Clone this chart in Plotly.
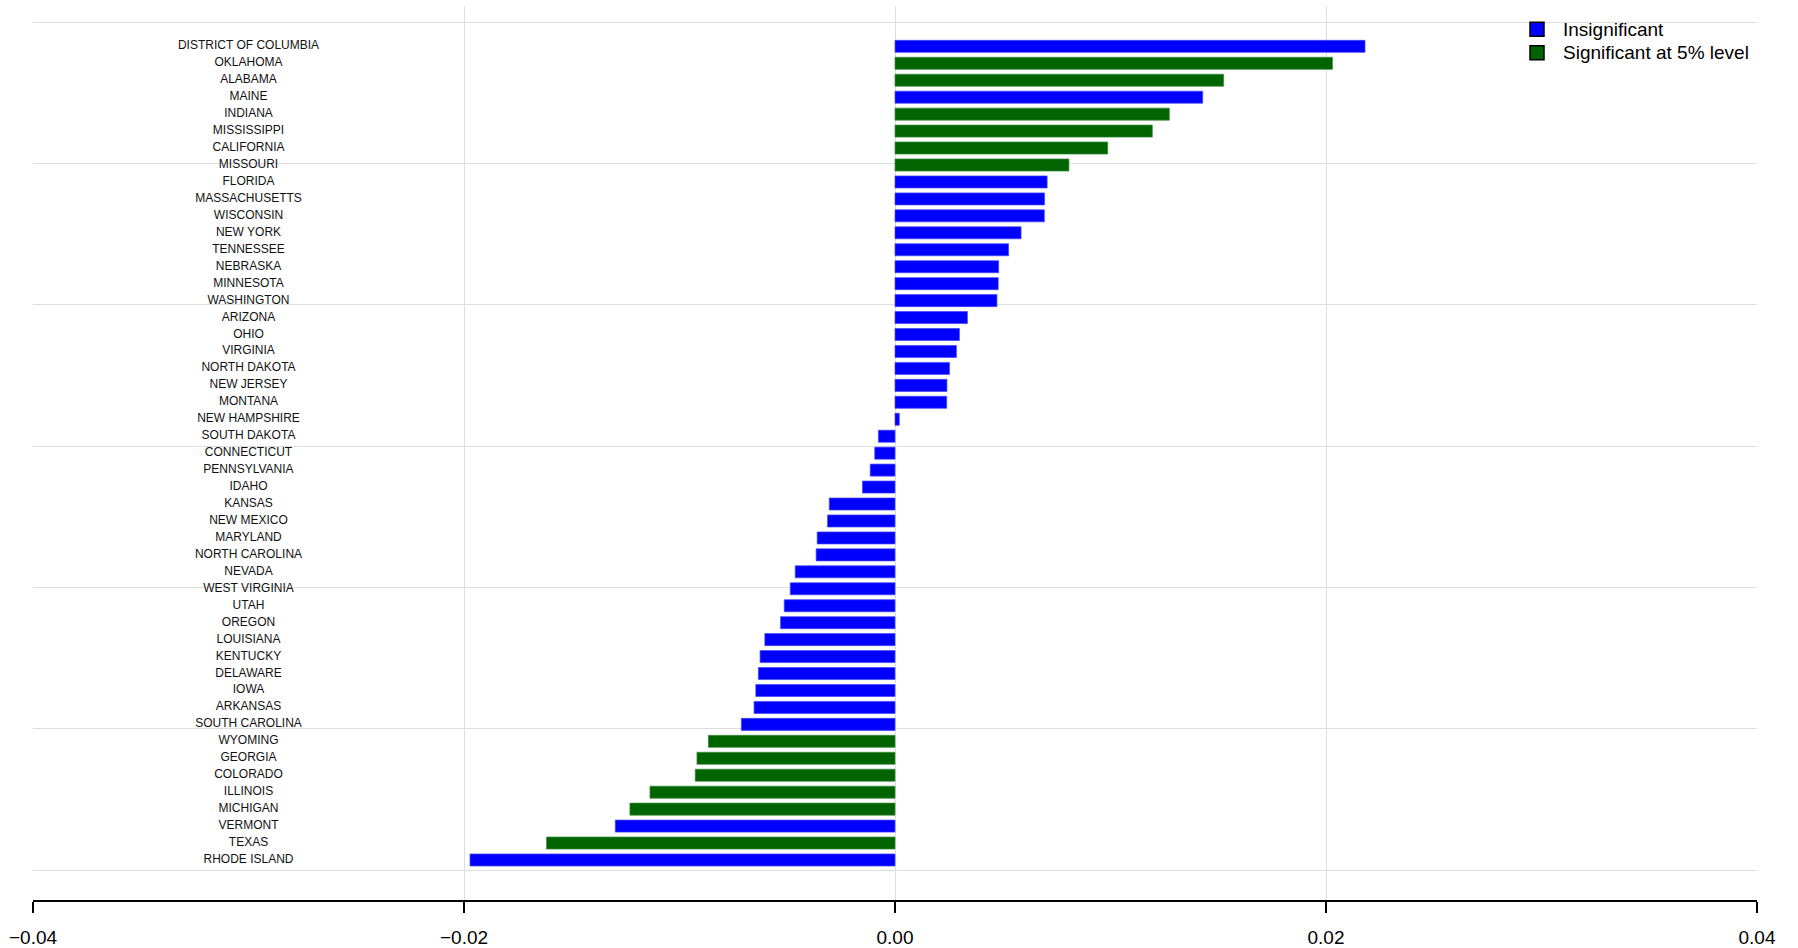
import plotly.graph_objects as go

# Data (top to bottom as displayed)
states = [
    "DISTRICT OF COLUMBIA", "OKLAHOMA", "ALABAMA", "MAINE", "INDIANA", "MISSISSIPPI",
    "CALIFORNIA", "MISSOURI", "FLORIDA", "MASSACHUSETTS", "WISCONSIN", "NEW YORK",
    "TENNESSEE", "NEBRASKA", "MINNESOTA", "WASHINGTON", "ARIZONA", "OHIO", "VIRGINIA",
    "NORTH DAKOTA", "NEW JERSEY", "MONTANA", "NEW HAMPSHIRE", "SOUTH DAKOTA",
    "CONNECTICUT", "PENNSYLVANIA", "IDAHO", "KANSAS", "NEW MEXICO", "MARYLAND",
    "NORTH CAROLINA", "NEVADA", "WEST VIRGINIA", "UTAH", "OREGON", "LOUISIANA",
    "KENTUCKY", "DELAWARE", "IOWA", "ARKANSAS", "SOUTH CAROLINA", "WYOMING", "GEORGIA",
    "COLORADO", "ILLINOIS", "MICHIGAN", "VERMONT", "TEXAS", "RHODE ISLAND",
]
values = [
    0.02181, 0.0203, 0.01525, 0.01428, 0.01273, 0.01194,
    0.00987, 0.00807, 0.00706, 0.00694, 0.00693, 0.00585,
    0.00527, 0.00481, 0.00479, 0.00473, 0.00336, 0.00299, 0.00285,
    0.00253, 0.00241, 0.0024, 0.0002, -0.00077,
    -0.00094, -0.00115, -0.00151, -0.00305, -0.00313, -0.00361,
    -0.00366, -0.00463, -0.00486, -0.00514, -0.00531, -0.00604,
    -0.00626, -0.00634, -0.00646, -0.00654, -0.00713, -0.00866, -0.00919,
    -0.00927, -0.01137, -0.0123, -0.01298, -0.01617, -0.01972,
]
significant = [
    False, True, True, False, True, True,
    True, True, False, False, False, False,
    False, False, False, False, False, False, False,
    False, False, False, False, False,
    False, False, False, False, False, False,
    False, False, False, False, False, False,
    False, False, False, False, False, True, True,
    True, True, True, False, True, False,
]
group_names = ["Insignificant", "Significant at 5% level"]
group_colors = ["#0000ff", "#006400"]
group_edges = ["rgba(70,70,255,0.9)", "rgba(60,140,60,0.9)"]

x_ticks = [-0.04, -0.02, 0.0, 0.02, 0.04]

n = len(states)
ypos = [n - i for i in range(n)]  # DC at top
label_x = -0.03

FONT = "Liberation Sans, Arial, Helvetica, sans-serif"

fig = go.Figure()

for g, (name, col, edge) in enumerate(zip(group_names, group_colors, group_edges)):
    flag = bool(g)
    xs = [v for v, s in zip(values, significant) if s == flag]
    ys = [y for y, s in zip(ypos, significant) if s == flag]
    fig.add_trace(go.Bar(
        x=xs, y=ys, orientation="h", width=0.71, name=name,
        marker=dict(color=col, line=dict(color=edge, width=0.8)),
        showlegend=False, hoverinfo="x+y",
    ))

fig.add_trace(go.Scatter(
    x=[label_x] * n, y=ypos, text=states, mode="text",
    textposition="middle center",
    textfont=dict(family=FONT, size=12, color="#111111"),
    showlegend=False, hoverinfo="skip",
))

# manual legend (paper coordinates)
W, H = 1798, 948
ML, MR, MT, MB = 33, 41, 6, 48
pw, ph = W - ML - MR, H - MT - MB


def px2paper_x(px):
    return (px - ML) / pw


def px2paper_y(py):
    return (H - MB - py) / ph


leg_rows = [29.3, 52.7]
for name, col, cy in zip(group_names, group_colors, leg_rows):
    fig.add_shape(
        type="rect", xref="paper", yref="paper",
        x0=px2paper_x(1530), x1=px2paper_x(1544),
        y0=px2paper_y(cy + 7), y1=px2paper_y(cy - 7),
        fillcolor=col, line=dict(color="black", width=1.5),
    )
    fig.add_annotation(
        xref="paper", yref="paper", x=px2paper_x(1561), y=px2paper_y(cy),
        xanchor="left", yanchor="middle", showarrow=False, text=name,
        font=dict(family=FONT, size=19, color="black"),
    )

grid_y = [0.41 + 8.336 * k for k in range(7)]

fig.update_layout(
    width=W, height=H,
    margin=dict(l=ML, r=MR, t=MT, b=MB, autoexpand=False),
    plot_bgcolor="white", paper_bgcolor="white",
    barmode="overlay",
    showlegend=False,
    font=dict(family=FONT, size=18, color="black"),
    xaxis=dict(
        range=[-0.04, 0.04], tickvals=x_ticks, tickformat=".2f",
        showgrid=True, gridcolor="#dddddd", gridwidth=1.2,
        zeroline=False, automargin=False,
        showline=True, linecolor="black", linewidth=2,
        ticks="outside", ticklen=11, tickwidth=2, tickcolor="black",
        ticklabelstandoff=8,
        tickfont=dict(family=FONT, size=19, color="black"),
    ),
    yaxis=dict(
        range=[-1.36, 51.38], tickvals=grid_y, showticklabels=False,
        showgrid=True, gridcolor="#dddddd", gridwidth=1.2,
        zeroline=False, showline=False, ticks="", automargin=False,
    ),
)

fig.write_html(
    "out.html",
    config={"displayModeBar": False},
    post_script="document.body.style.margin='0px';",
)
